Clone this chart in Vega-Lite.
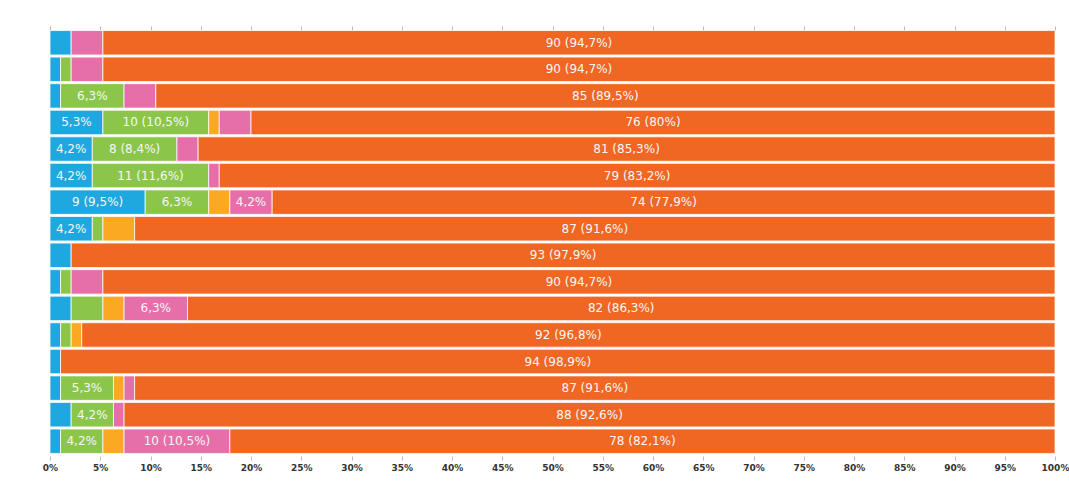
{
  "$schema": "https://vega.github.io/schema/vega-lite/v6.json",
  "autosize": {"type": "none"},
  "width": 1005,
  "height": 424,
  "padding": {"left": 50, "top": 30, "right": 14, "bottom": 30},
  "background": "white",
  "config": {"view": {"stroke": null}},
  "data": {"values": [
    {"row": 1, "k": 1, "n": 2}, {"row": 1, "k": 4, "n": 3}, {"row": 1, "k": 5, "n": 90},
    {"row": 2, "k": 1, "n": 1}, {"row": 2, "k": 2, "n": 1}, {"row": 2, "k": 4, "n": 3}, {"row": 2, "k": 5, "n": 90},
    {"row": 3, "k": 1, "n": 1}, {"row": 3, "k": 2, "n": 6}, {"row": 3, "k": 4, "n": 3}, {"row": 3, "k": 5, "n": 85},
    {"row": 4, "k": 1, "n": 5}, {"row": 4, "k": 2, "n": 10}, {"row": 4, "k": 3, "n": 1}, {"row": 4, "k": 4, "n": 3}, {"row": 4, "k": 5, "n": 76},
    {"row": 5, "k": 1, "n": 4}, {"row": 5, "k": 2, "n": 8}, {"row": 5, "k": 4, "n": 2}, {"row": 5, "k": 5, "n": 81},
    {"row": 6, "k": 1, "n": 4}, {"row": 6, "k": 2, "n": 11}, {"row": 6, "k": 4, "n": 1}, {"row": 6, "k": 5, "n": 79},
    {"row": 7, "k": 1, "n": 9}, {"row": 7, "k": 2, "n": 6}, {"row": 7, "k": 3, "n": 2}, {"row": 7, "k": 4, "n": 4}, {"row": 7, "k": 5, "n": 74},
    {"row": 8, "k": 1, "n": 4}, {"row": 8, "k": 2, "n": 1}, {"row": 8, "k": 3, "n": 3}, {"row": 8, "k": 5, "n": 87},
    {"row": 9, "k": 1, "n": 2}, {"row": 9, "k": 5, "n": 93},
    {"row": 10, "k": 1, "n": 1}, {"row": 10, "k": 2, "n": 1}, {"row": 10, "k": 4, "n": 3}, {"row": 10, "k": 5, "n": 90},
    {"row": 11, "k": 1, "n": 2}, {"row": 11, "k": 2, "n": 3}, {"row": 11, "k": 3, "n": 2}, {"row": 11, "k": 4, "n": 6}, {"row": 11, "k": 5, "n": 82},
    {"row": 12, "k": 1, "n": 1}, {"row": 12, "k": 2, "n": 1}, {"row": 12, "k": 3, "n": 1}, {"row": 12, "k": 5, "n": 92},
    {"row": 13, "k": 1, "n": 1}, {"row": 13, "k": 5, "n": 94},
    {"row": 14, "k": 1, "n": 1}, {"row": 14, "k": 2, "n": 5}, {"row": 14, "k": 3, "n": 1}, {"row": 14, "k": 4, "n": 1}, {"row": 14, "k": 5, "n": 87},
    {"row": 15, "k": 1, "n": 2}, {"row": 15, "k": 2, "n": 4}, {"row": 15, "k": 4, "n": 1}, {"row": 15, "k": 5, "n": 88},
    {"row": 16, "k": 1, "n": 1}, {"row": 16, "k": 2, "n": 4}, {"row": 16, "k": 3, "n": 2}, {"row": 16, "k": 4, "n": 10}, {"row": 16, "k": 5, "n": 78}
  ]},
  "transform": [
    {"stack": "n", "groupby": ["row"], "sort": [{"field": "k", "order": "ascending"}], "offset": "normalize", "as": ["x0", "x1"]},
    {"calculate": "(datum.x0 + datum.x1) / 2", "as": "mid"},
    {"joinaggregate": [{"op": "sum", "field": "n", "as": "tot"}], "groupby": ["row"]},
    {"calculate": "replace(toString(round(datum.n / datum.tot * 1000) / 10), '.', ',') + '%'", "as": "pct"},
    {"calculate": "datum.n >= 8 ? datum.n + ' (' + datum.pct + ')' : (datum.n >= 4 ? datum.pct : '')", "as": "label"}
  ],
  "encoding": {
    "y": {"field": "row", "type": "ordinal", "axis": null, "scale": {"paddingInner": 0.08, "paddingOuter": 0.02}}
  },
  "layer": [
    {
      "mark": {"type": "bar", "stroke": "white", "strokeWidth": 1, "strokeOpacity": 0.75},
      "encoding": {
        "x": {"field": "x0", "type": "quantitative", "scale": {"domain": [0, 1], "nice": false, "zero": false},
          "axis": {"orient": "top", "values": [0,0.05,0.1,0.15,0.2,0.25,0.3,0.35,0.4,0.45,0.5,0.55,0.6,0.65,0.7,0.75,0.8,0.85,0.9,0.95,1], "labels": false, "title": null, "grid": false, "domain": false, "ticks": true, "tickSize": 4, "tickWidth": 1, "tickColor": "#b8b8b8", "tickOpacity": 1, "offset": 0}},
        "x2": {"field": "x1"},
        "color": {"field": "k", "type": "nominal", "legend": null,
          "scale": {"domain": [1, 2, 3, 4, 5], "range": ["#1fa8e0", "#8bc64a", "#fba823", "#e66faa", "#f06724"]}}
      }
    },
    {
      "mark": {"type": "text", "color": "#f6f6f6", "font": "DejaVu Sans", "fontSize": 12, "baseline": "middle", "align": "center"},
      "encoding": {
        "x": {"field": "mid", "type": "quantitative", "scale": {"domain": [0, 1], "nice": false, "zero": false},
          "axis": {"orient": "bottom", "values": [0,0.05,0.1,0.15,0.2,0.25,0.3,0.35,0.4,0.45,0.5,0.55,0.6,0.65,0.7,0.75,0.8,0.85,0.9,0.95,1], "format": ".0%", "title": null, "grid": false, "domain": false, "ticks": true, "tickSize": 4, "tickColor": "#bbbbbb", "offset": 2, "labelPadding": 3, "labelFont": "DejaVu Sans", "labelFontWeight": "bold", "labelFontSize": 9, "labelColor": "#333333", "labelFlush": false, "labelOverlap": false}},
        "text": {"field": "label"}
      }
    }
  ],
  "resolve": {"scale": {"x": "independent"}, "axis": {"x": "independent"}}
}
